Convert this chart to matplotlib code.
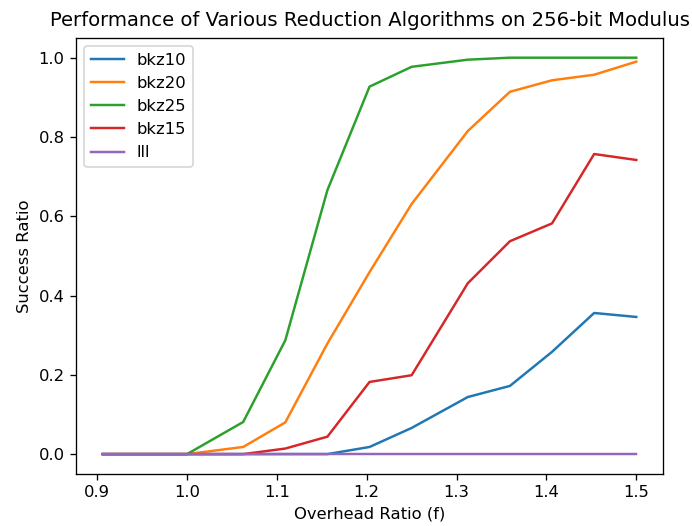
import matplotlib
matplotlib.use("Agg")
import matplotlib.pyplot as plt

# overhead ratios (k/64)
overhead = [58/64, 64/64, 68/64, 71/64, 74/64, 77/64, 80/64, 84/64, 87/64, 90/64, 93/64, 96/64]

bkz10 = [0, 0, 0, 0, 0, 0.018, 0.066, 0.144, 0.172, 0.258, 0.356, 0.346]
bkz20 = [0, 0, 0.018, 0.080, 0.279, 0.459, 0.631, 0.815, 0.914, 0.943, 0.957, 0.990]
bkz25 = [0, 0, 0.081, 0.287, 0.666, 0.927, 0.977, 0.995, 1.0, 1.0, 1.0, 1.0]
bkz15 = [0, 0, 0, 0.014, 0.044, 0.182, 0.199, 0.431, 0.537, 0.582, 0.757, 0.742]
lll = [0, 0, 0, 0, 0, 0, 0, 0, 0, 0, 0, 0]

DPI = 118
fig = plt.figure(figsize=(692 / DPI, 526 / DPI), dpi=DPI)
ax = fig.add_axes([0.110, 0.099, 0.848, 0.829])

ax.plot(overhead, bkz10, label="bkz10")
ax.plot(overhead, bkz20, label="bkz20")
ax.plot(overhead, bkz25, label="bkz25")
ax.plot(overhead, bkz15, label="bkz15")
ax.plot(overhead, lll, label="lll")

ax.set_title("Performance of Various Reduction Algorithms on 256-bit Modulus", pad=7)
ax.set_xlabel("Overhead Ratio (f)")
ax.set_ylabel("Success Ratio")
ax.legend(loc="upper left")

fig.savefig("out.png", dpi=DPI)
